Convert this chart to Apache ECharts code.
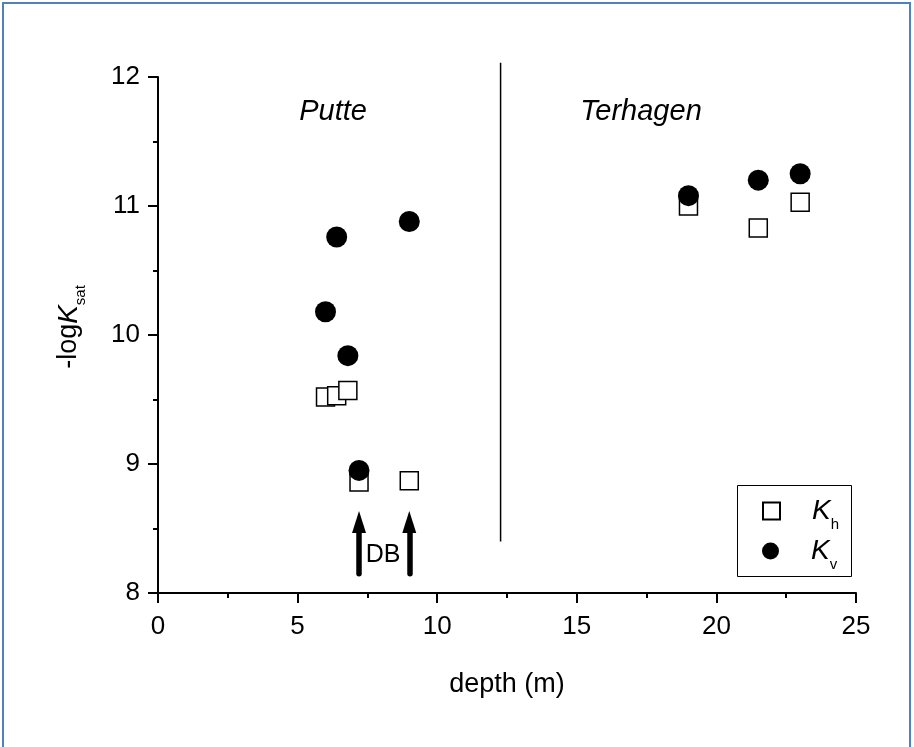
<!DOCTYPE html>
<html>
<head>
<meta charset="utf-8">
<script src="https://cdn.jsdelivr.net/npm/echarts@6/dist/echarts.min.js"></script>
<style>
  html, body { margin: 0; padding: 0; background: #fff; }
  #main { width: 914px; height: 747px; }
</style>
</head>
<body>
<div id="main"></div>
<script>
  // depth (m) and -log Ksat
  var khData = [[6.0, 9.52], [6.4, 9.53], [6.8, 9.57], [7.2, 8.86], [9.0, 8.87],
                [19.0, 11.0], [21.5, 10.83], [23.0, 11.03]];
  var kvData = [[6.0, 10.18], [6.4, 10.76], [6.8, 9.84], [7.2, 8.95], [9.0, 10.88],
                [19.0, 11.08], [21.5, 11.2], [23.0, 11.25]];
  var xTicks = [0, 5, 10, 15, 20, 25];
  var yTicks = [8, 9, 10, 11, 12];
  // annotations
  var dividerX = 12.27, dividerY = [8.4, 12.11];
  var arrowX = [7.2, 9.0], arrowBase = 8.15, arrowTop = 8.5, arrowHead = 8.55;
  var siteLabels = [[6.27, 11.73, 'Putte'], [17.3, 11.73, 'Terhagen']];
  var dbLabel = [8.06, 8.29, 'DB'];

  var FONT = 'Liberation Sans, Arial, sans-serif';
  var chart = echarts.init(document.getElementById('main'));

  var legendRich = {
    k: { fontFamily: FONT, fontSize: 28, fontStyle: 'italic', color: '#000', lineHeight: 42, padding: [0, 0, 0, 27] },
    s: { fontFamily: FONT, fontSize: 15, color: '#000', lineHeight: 14, verticalAlign: 'bottom' }
  };
  function legendAt(name, icon, top) {
    return {
      orient: 'vertical', left: 762, top: top, padding: 0,
      itemWidth: 17, itemHeight: 17,
      data: [{ name: name, icon: icon }],
      formatter: function (n) { return '{k|K}{s|' + n.slice(1) + '}'; },
      textStyle: { rich: legendRich }
    };
  }

  var option = {
    backgroundColor: '#fff',
    animation: false,
    grid: { left: 158, right: 58, top: 77, bottom: 154 },
    graphic: [{
      type: 'rect',
      shape: { x: 3, y: 3, width: 907, height: 780 },
      style: { fill: 'none', stroke: '#4f81bd', lineWidth: 2 },
      z: 100
    }, {
      type: 'rect',
      shape: { x: 737.5, y: 485.5, width: 114, height: 91 },
      style: { fill: '#fff', stroke: '#000', lineWidth: 1 },
      z: 0
    }],
    xAxis: {
      type: 'value', min: xTicks[0], max: xTicks[xTicks.length - 1], interval: 5,
      name: 'depth (m)', nameLocation: 'middle', nameGap: 78,
      nameTextStyle: { fontFamily: FONT, fontSize: 27, color: '#000' },
      axisLine: { lineStyle: { color: '#000', width: 2 } },
      axisTick: { inside: false, length: 10, lineStyle: { color: '#000', width: 2 } },
      minorTick: { show: true, splitNumber: 2, length: 5, lineStyle: { color: '#000', width: 2 } },
      axisLabel: { fontFamily: FONT, fontSize: 26, color: '#000', margin: 21 },
      splitLine: { show: false }
    },
    yAxis: {
      type: 'value', min: yTicks[0], max: yTicks[yTicks.length - 1], interval: 1,
      name: '{a|-log}{k|K}{s|sat}', nameLocation: 'middle', nameGap: 70, nameRotate: 90,
      nameTextStyle: {
        fontFamily: FONT, fontSize: 27, color: '#000',
        rich: {
          a: { fontFamily: FONT, fontSize: 27, color: '#000', lineHeight: 38, padding: [0, 0, 0, 16] },
          k: { fontFamily: FONT, fontSize: 28, fontStyle: 'italic', color: '#000', lineHeight: 38 },
          s: { fontFamily: FONT, fontSize: 15, color: '#000', lineHeight: 14, verticalAlign: 'bottom' }
        }
      },
      axisLine: { lineStyle: { color: '#000', width: 2 } },
      axisTick: { inside: false, length: 10, lineStyle: { color: '#000', width: 2 } },
      minorTick: { show: true, splitNumber: 2, length: 5, lineStyle: { color: '#000', width: 2 } },
      axisLabel: { fontFamily: FONT, fontSize: 26, color: '#000', margin: 18 },
      splitLine: { show: false }
    },
    legend: [legendAt('Kh', 'rect', 497), legendAt('Kv', 'circle', 537)],
    series: [
      {
        name: 'Kh', type: 'scatter', data: khData,
        symbol: 'rect', symbolSize: 18,
        itemStyle: { color: '#fff', borderColor: '#000', borderWidth: 1.5, opacity: 1 },
        z: 3
      },
      {
        name: 'Kv', type: 'scatter', data: kvData,
        symbol: 'circle', symbolSize: 21,
        itemStyle: { color: '#000', opacity: 1 },
        z: 4
      },
      {
        name: 'divider', type: 'line', clip: false, silent: true,
        data: [[dividerX, dividerY[0]], [dividerX, dividerY[1]]],
        symbol: 'none', lineStyle: { color: '#000', width: 1.5 }, z: 2
      },
      {
        name: 'arrows', type: 'scatter', clip: false, silent: true,
        data: arrowX.map(function (x) { return [x, arrowHead]; }),
        symbol: 'triangle', symbolSize: [14, 22],
        itemStyle: { color: '#000', opacity: 1 },
        markLine: {
          silent: true, symbol: 'none', animation: false,
          label: { show: false },
          lineStyle: { color: '#000', width: 5.5, type: 'solid', cap: 'round', opacity: 1 },
          data: arrowX.map(function (x) {
            return [{ coord: [x, arrowBase] }, { coord: [x, arrowTop] }];
          })
        },
        z: 5
      },
      {
        name: 'labels', type: 'scatter', clip: false, silent: true,
        symbolSize: 0, itemStyle: { opacity: 1 },
        data: siteLabels.map(function (d) { return { value: [d[0], d[1]], name: d[2] }; }),
        label: {
          show: true, position: 'inside', formatter: '{b}',
          fontFamily: FONT, fontSize: 29, fontStyle: 'italic', color: '#000'
        }
      },
      {
        name: 'db', type: 'scatter', clip: false, silent: true,
        symbolSize: 0, itemStyle: { opacity: 1 },
        data: [{ value: [dbLabel[0], dbLabel[1]], name: dbLabel[2] }],
        label: {
          show: true, position: 'inside', formatter: '{b}',
          fontFamily: FONT, fontSize: 25, color: '#000'
        }
      }
    ]
  };
  chart.setOption(option);
</script>
</body>
</html>
